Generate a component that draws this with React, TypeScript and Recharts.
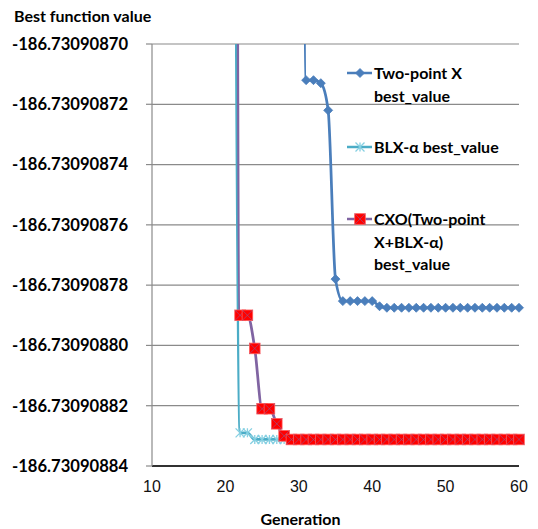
import React from 'react';
import { LineChart, Line, XAxis, YAxis, CartesianGrid, Legend } from 'recharts';

// generations shown on the x axis
const generations = [
  10, 11, 12, 13, 14, 15, 16, 17, 18, 19,
  20, 21, 22, 23, 24, 25, 26, 27, 28, 29,
  30, 31, 32, 33, 34, 35, 36, 37, 38, 39,
  40, 41, 42, 43, 44, 45, 46, 47, 48, 49,
  50, 51, 52, 53, 54, 55, 56, 57, 58, 59,
  60,
];

// Two-point X best_value (off the top of the chart before gen 30)
const twoPointX: (number | null)[] = [
  null, null, null, null, null, null, null, null, null, null,
  null, null, null, null, null, null, null, null, null, null,
  -186.730908, -186.730908712, -186.730908712, -186.730908713, -186.730908722,
  -186.730908778, -186.7309087853, -186.7309087853, -186.7309087853, -186.7309087853,
  -186.7309087853, -186.730908787, -186.7309087875, -186.7309087875, -186.7309087875,
  -186.7309087875, -186.7309087875, -186.7309087875, -186.7309087875, -186.7309087875,
  -186.7309087875, -186.7309087875, -186.7309087875, -186.7309087875, -186.7309087875,
  -186.7309087875, -186.7309087875, -186.7309087875, -186.7309087875, -186.7309087875,
  -186.7309087875,
];

// BLX-α best_value
const blxAlpha: (number | null)[] = [
  null, null, null, null, null, null, null, null, null, null,
  null, -186.73090843, -186.730908829, -186.730908829, -186.7309088312,
  -186.7309088312, -186.7309088312, -186.7309088312, -186.7309088312, -186.7309088312,
  -186.7309088312, -186.7309088312, -186.7309088312, -186.7309088312, -186.7309088312,
  -186.7309088312, -186.7309088312, -186.7309088312, -186.7309088312, -186.7309088312,
  -186.7309088312, -186.7309088312, -186.7309088312, -186.7309088312, -186.7309088312,
  -186.7309088312, -186.7309088312, -186.7309088312, -186.7309088312, -186.7309088312,
  -186.7309088312, -186.7309088312, -186.7309088312, -186.7309088312, -186.7309088312,
  -186.7309088312, -186.7309088312, -186.7309088312, -186.7309088312, -186.7309088312,
  -186.7309088312,
];

// CXO(Two-point X+BLX-α) best_value
const cxo: (number | null)[] = [
  null, null, null, null, null, null, null, null, null, null,
  null, -186.7309078, -186.73090879, -186.73090879, -186.730908801,
  -186.730908821, -186.730908821, -186.730908826, -186.73090883, -186.7309088312,
  -186.7309088312, -186.7309088312, -186.7309088312, -186.7309088312, -186.7309088312,
  -186.7309088312, -186.7309088312, -186.7309088312, -186.7309088312, -186.7309088312,
  -186.7309088312, -186.7309088312, -186.7309088312, -186.7309088312, -186.7309088312,
  -186.7309088312, -186.7309088312, -186.7309088312, -186.7309088312, -186.7309088312,
  -186.7309088312, -186.7309088312, -186.7309088312, -186.7309088312, -186.7309088312,
  -186.7309088312, -186.7309088312, -186.7309088312, -186.7309088312, -186.7309088312,
  -186.7309088312,
];

const xTicks = [10, 20, 30, 40, 50, 60];
const yTicks = [
  -186.73090884, -186.73090882, -186.7309088, -186.73090878,
  -186.73090876, -186.73090874, -186.73090872, -186.7309087,
];

const seriesNames = ['Two-point X best_value', 'BLX-α best_value', 'CXO(Two-point X+BLX-α) best_value'];

const data = generations.map((gen, i) => ({
  gen,
  a: twoPointX[i],
  b: blxAlpha[i],
  c: cxo[i],
}));

const BLUE = '#4A7EBB';
const CYAN = '#4BACC6';
const CYAN_MARK = '#86d0e2';
const PURPLE = '#8064A2';
const RED = '#FF0000';
const BOLD = 'Lato, "Open Sans", sans-serif';

function diamond(cx: number, cy: number) {
  const r = 4.5;
  return (
    <polygon
      points={`${cx},${cy - r} ${cx + r},${cy} ${cx},${cy + r} ${cx - r},${cy}`}
      fill={BLUE}
      stroke={BLUE}
      strokeWidth={0.8}
    />
  );
}

function star(cx: number, cy: number) {
  const r = 4.5;
  return (
    <path
      d={`M${cx - r},${cy - r}L${cx + r},${cy + r}M${cx + r},${cy - r}L${cx - r},${cy + r}M${cx},${cy - r}L${cx},${cy + r}`}
      stroke={CYAN_MARK}
      strokeWidth={1.3}
      fill="none"
    />
  );
}

function square(cx: number, cy: number) {
  const r = 5.3;
  return (
    <g>
      <rect x={cx - r} y={cy - r} width={2 * r} height={2 * r} fill={RED} stroke="#ff5a5a" strokeWidth={0.8} />
      <path
        d={`M${cx - r},${cy - r}L${cx + r},${cy + r}M${cx + r},${cy - r}L${cx - r},${cy + r}`}
        stroke={PURPLE}
        strokeOpacity={0.55}
        strokeWidth={1}
      />
    </g>
  );
}

const dotOf = (draw: (x: number, y: number) => React.ReactElement) => (props: any) => {
  const { cx, cy, index } = props;
  if (cx == null || cy == null || props.value == null) return <g key={index} />;
  return <g key={index}>{draw(cx, cy)}</g>;
};

const legendRows = [
  { lines: ['Two-point X', 'best_value'], color: BLUE, mark: diamond, top: 62 },
  { lines: ['BLX-α best_value'], color: CYAN, mark: star, top: 136 },
  { lines: ['CXO(Two-point', 'X+BLX-α)', 'best_value'], color: PURPLE, mark: square, top: 208 },
];

function ChartLegend() {
  return (
    <div style={{ position: 'relative', width: 538, height: 529 }}>
      {legendRows.map((row, i) => (
        <div
          key={i}
          style={{ position: 'absolute', left: 347, top: row.top, display: 'flex', alignItems: 'flex-start' }}
          title={seriesNames[i]}
        >
          <svg width={26} height={22} style={{ display: 'block' }}>
            <line x1={0} y1={11} x2={25} y2={11} stroke={row.color} strokeWidth={2.5} />
            {row.mark(13, 11)}
          </svg>
          <div
            style={{
              marginLeft: 1,
              fontFamily: BOLD,
              fontWeight: 700,
              fontSize: 16,
              lineHeight: '22.5px',
              color: '#000',
              whiteSpace: 'nowrap',
            }}
          >
            {row.lines.map((t, j) => (
              <div key={j}>{t}</div>
            ))}
          </div>
        </div>
      ))}
    </div>
  );
}

export default function App() {
  return (
    <div style={{ position: 'absolute', left: 0, top: 0, width: 538, height: 529, background: '#fff' }}>
      <div
        style={{
          position: 'absolute', left: 14, top: 6, fontFamily: BOLD, fontWeight: 700,
          fontSize: 16, lineHeight: '20px', color: '#000', whiteSpace: 'nowrap',
        }}
      >
        Best function value
      </div>
      <LineChart width={538} height={529} data={data} margin={{ top: 44, right: 19, bottom: 0, left: 0 }}>
        <CartesianGrid vertical={false} stroke="#8a8a8a" strokeWidth={1.2} />
        <XAxis
          dataKey="gen"
          type="number"
          domain={[10, 60]}
          ticks={xTicks}
          height={63}
          tickLine={false}
          tickSize={0}
          tickMargin={15}
          axisLine={{ stroke: '#000', strokeWidth: 1.5 }}
          tick={{ fontFamily: '"Liberation Sans", Arial, sans-serif', fontSize: 16, fill: '#111' }}
        />
        <XAxis
          xAxisId="top"
          dataKey="gen"
          type="number"
          orientation="top"
          domain={[10, 60]}
          ticks={xTicks}
          height={0}
          mirror
          axisLine={false}
          tick={false}
          tickSize={5}
          tickLine={{ stroke: '#8a8a8a', strokeWidth: 1.2 }}
        />
        <YAxis
          type="number"
          domain={[yTicks[0], yTicks[yTicks.length - 1]]}
          ticks={yTicks}
          allowDataOverflow
          width={152}
          tickSize={6}
          tickMargin={18}
          interval={0}
          tickFormatter={(v: number) => v.toFixed(8)}
          axisLine={{ stroke: '#8a8a8a', strokeWidth: 1.2 }}
          tickLine={{ stroke: '#8a8a8a', strokeWidth: 1.2 }}
          tick={{ fontFamily: BOLD, fontWeight: 700, fontSize: 16.6, fill: '#000' }}
        />
        <YAxis
          yAxisId="right"
          orientation="right"
          type="number"
          domain={[yTicks[0], yTicks[yTicks.length - 1]]}
          width={0}
          tick={false}
          tickLine={false}
          axisLine={{ stroke: '#000', strokeWidth: 1.5 }}
        />
        <Legend
          layout="vertical"
          align="center"
          verticalAlign="middle"
          wrapperStyle={{ left: 0, top: 0, width: 538, height: 529, pointerEvents: 'none' }}
          content={() => <ChartLegend />}
        />
        <Line
          dataKey="a"
          name={seriesNames[0]}
          type="monotone"
          stroke={BLUE}
          strokeWidth={2.75}
          dot={dotOf(diamond)}
          isAnimationActive={false}
        />
        <Line
          dataKey="b"
          name={seriesNames[1]}
          type="monotone"
          stroke={CYAN}
          strokeWidth={2.75}
          dot={dotOf(star)}
          isAnimationActive={false}
        />
        <Line
          dataKey="c"
          name={seriesNames[2]}
          type="monotone"
          stroke={PURPLE}
          strokeWidth={2.75}
          dot={dotOf(square)}
          isAnimationActive={false}
        />
      </LineChart>
      <div
        style={{
          position: 'absolute', left: 200, width: 201, top: 509, textAlign: 'center', fontFamily: BOLD,
          fontWeight: 700, fontSize: 16, lineHeight: '20px', color: '#000',
        }}
      >
        Generation
      </div>
    </div>
  );
}
